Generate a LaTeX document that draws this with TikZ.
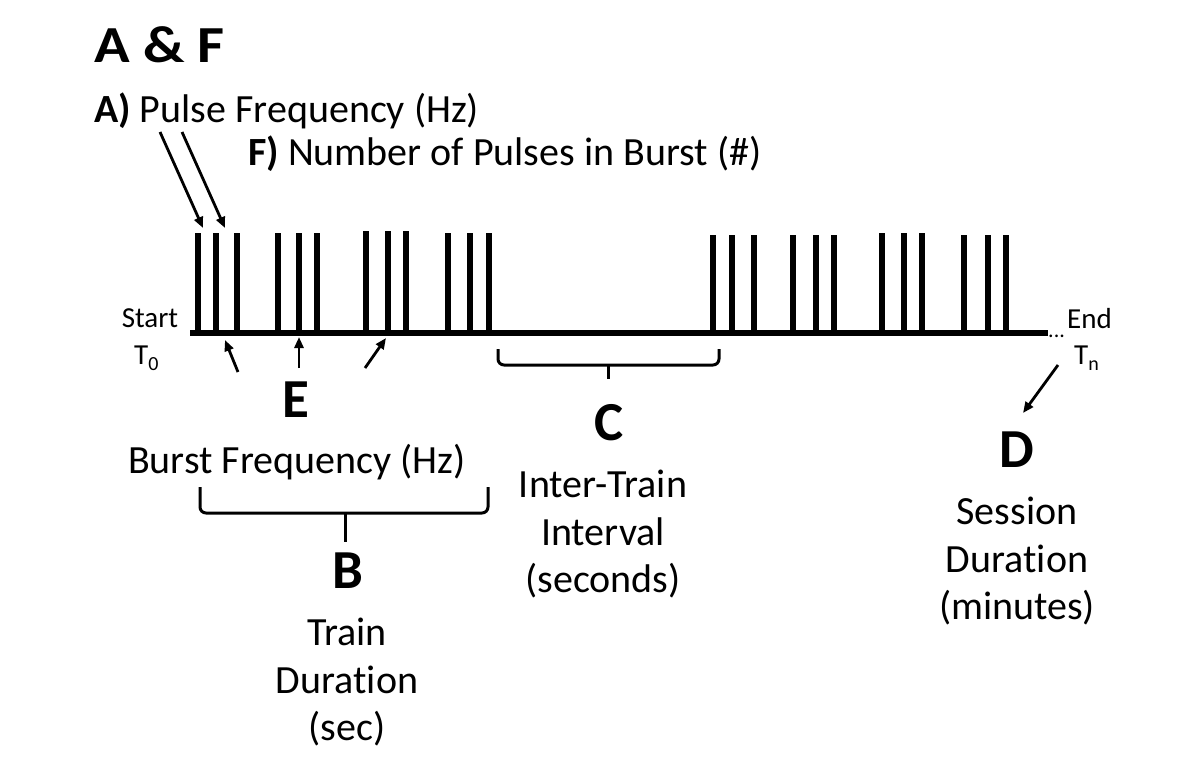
\documentclass[tikz,border=0pt]{standalone}
\usepackage{fontspec}
\setmainfont{Carlito}[Ligatures=NoCommon]
\usetikzlibrary{arrows.meta}
\begin{document}
\begin{tikzpicture}[x=1pt,y=-1pt,
  pulse/.style={line width=5.5pt},
  axisline/.style={line width=5.5pt},
  arr/.style={line width=2.8pt,-{Triangle[length=11pt,width=9pt]}},
  brace/.style={line width=3pt,rounded corners=6pt},
  lbl/.style={inner sep=0pt,font=\fontsize{40}{47.5}\selectfont,align=center},
  small/.style={inner sep=0pt,font=\fontsize{29}{32}\selectfont},
  big/.style={inner sep=0pt,font=\fontsize{55}{60}\selectfont\bfseries},
]
\useasboundingbox (0,0) rectangle (1186,758);

% time axis
\coordinate (s) at (190,333);
\coordinate (e) at (1048,333);
\draw[axisline] (s) -- (e);

% pulses
\foreach \x/\t in {198/233,216/233,237/233,278/233,299/233,317/233,
                   366/231,388/231,406/231,448/233,470/233,489/233,
                   713/235,732/235,754/235,793/235,816/235,834/235,
                   882/233,904/233,922/233,964/235,988/235,1006/235}
  \draw[pulse] (\x,333) -- (\x,\t);

% titles
\node[anchor=base west,inner sep=0pt,font=\fontsize{52}{54}\selectfont\bfseries] (af) at (94,62) {\scalebox{1.13}[1]{A \& F}};
\node[anchor=base west,inner sep=0pt,font=\fontsize{40}{44}\selectfont] (pa) at (94,122) {\textbf{A)} Pulse Frequency (Hz)};
\node[anchor=base west,inner sep=0pt,font=\fontsize{40}{44}\selectfont] (pf) at (248,165) {\textbf{F)} Number of Pulses in Burst (\#)};

% start / end
\node[small,anchor=base] (start) at (150,327) {Start};
\node[small,anchor=base west] (t0) at (134,364) {T\raisebox{-0.22em}{\fontsize{20}{20}\selectfont 0}};
\node[inner sep=0pt,anchor=base west,font=\fontsize{22}{24}\selectfont] (dots) at (1048,337) {...};
\node[small,anchor=base west] (end) at (1067,328) {End};
\node[small,anchor=base west] (tn) at (1074,364) {T\raisebox{-0.22em}{\fontsize{20}{20}\selectfont n}};

% A arrows
\coordinate (a1s) at (160,132); \coordinate (a1e) at (203,228);
\coordinate (a2s) at (182,132); \coordinate (a2e) at (225,228);
\draw[arr] (a1s) -- (a1e);
\draw[arr] (a2s) -- (a2e);

% E
\node[big,anchor=base] (E) at (296,417) {E};
\coordinate (e1s) at (238,372); \coordinate (e1e) at (225,340);
\coordinate (e2s) at (299,368); \coordinate (e2e) at (299,337);
\coordinate (e3s) at (365,368); \coordinate (e3e) at (386,338);
\draw[arr] (e1s) -- (e1e);
\draw[arr] (e2s) -- (e2e);
\draw[arr] (e3s) -- (e3e);
\node[lbl,anchor=base west] (bf) at (128,473) {Burst Frequency (Hz)};

% B
\coordinate (bl) at (200,487); \coordinate (br) at (488,487);
\coordinate (bm) at (345,513); \coordinate (bt) at (345,542);
\draw[brace] (bl) -- (200,513) -- (488,513) -- (br);
\draw[line width=3pt] (bm) -- (bt);
\node[big,anchor=base] (B) at (348,588) {B};
\node[lbl,anchor=north] (btxt) at (347,618) {Train\\Duration\\(sec)};

% C
\coordinate (cl) at (498,349); \coordinate (cr) at (719,349);
\coordinate (cm) at (608,365); \coordinate (ct) at (608,379);
\draw[brace] (cl) -- (498,365) -- (719,365) -- (cr);
\draw[line width=3pt] (cm) -- (ct);
\node[big,anchor=base] (C) at (609,440) {C};
\node[lbl,anchor=north] (ctxt) at (603,470) {Inter-Train\\Interval\\(seconds)};

% D
\coordinate (ds) at (1058,365); \coordinate (de) at (1023,413);
\draw[arr] (ds) -- (de);
\node[big,anchor=base] (D) at (1017,467) {D};
\node[lbl,anchor=north] (dtxt) at (1017,497) {Session\\Duration\\(minutes)};
\end{tikzpicture}
\end{document}
